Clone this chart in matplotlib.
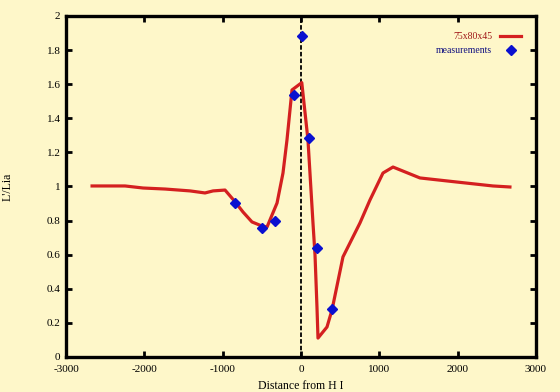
import matplotlib
matplotlib.use("Agg")
import matplotlib.pyplot as plt
from matplotlib.ticker import FuncFormatter

# Model curve 75x80x45
model_x = [-2668, -2247, -2017, -1736, -1417, -1226, -1123, -970, -843, -740, -626,
           -498, -434, -396, -306, -230, -179, -115, 10, 89, 153, 179, 204, 217,
           332, 396, 536, 753, 881, 1047, 1175, 1519, 1992, 2451, 2668]
model_y = [1.003, 1.003, 0.991, 0.985, 0.974, 0.962, 0.974, 0.979, 0.911, 0.850, 0.792,
           0.768, 0.762, 0.804, 0.903, 1.079, 1.273, 1.566, 1.609, 1.273, 0.786, 0.598,
           0.293, 0.111, 0.176, 0.276, 0.587, 0.786, 0.921, 1.079, 1.114, 1.050, 1.026,
           1.003, 0.997]

# Measurements
meas_x = [-843, -502, -332, -89, 9, 106, 200, 392]
meas_y = [0.901, 0.755, 0.798, 1.537, 1.883, 1.283, 0.637, 0.280]

x_ticks = [-3000, -2000, -1000, 0, 1000, 2000, 3000]
y_ticks = [0, 0.2, 0.4, 0.6, 0.8, 1.0, 1.2, 1.4, 1.6, 1.8, 2.0]

bg = '#FEF7C9'
plt.rcParams['font.family'] = ['Liberation Serif', 'DejaVu Serif']

fig = plt.figure(figsize=(5.6, 3.92), dpi=100, facecolor=bg)
ax = fig.add_axes([0.118, 0.0893, 0.839, 0.870], facecolor=bg)

ax.plot([0, 0], [0, 2], color='black', lw=1.3, linestyle=(0, (2.5, 1.2)), zorder=1)
ax.plot(model_x, model_y, color='#D42020', lw=2.3, label='75x80x45', zorder=2)
ax.plot(meas_x, meas_y, linestyle='none', marker='D', markersize=5.5,
        color='#0A10D0', label='measurements', zorder=3)

ax.set_xlim(-3000, 3000)
ax.set_ylim(0, 2)
ax.set_xticks(x_ticks)
ax.set_yticks(y_ticks)

def fmt(v, pos):
    return ('%.1f' % v).rstrip('0').rstrip('.')
ax.yaxis.set_major_formatter(FuncFormatter(fmt))
ax.xaxis.set_major_formatter(FuncFormatter(lambda v, p: '%d' % v))

for s in ax.spines.values():
    s.set_linewidth(2.4)
ax.tick_params(direction='in', length=4, width=2, top=True, right=True,
               labelsize=8, pad=4)
ax.tick_params(axis='x', pad=6)

ax.set_xlabel('Distance from H I', fontsize=8.5, labelpad=4)
ax.set_ylabel("L'/Lia", fontsize=8.5, labelpad=24)

leg = ax.legend(loc='upper right', frameon=False, markerfirst=False, fontsize=7,
                handlelength=2.2, borderaxespad=0.6, labelspacing=0.5,
                bbox_to_anchor=(0.99, 0.98))
leg.get_texts()[0].set_color('#A01818')
leg.get_texts()[1].set_color('#101080')

fig.savefig('out.png', dpi=100, facecolor=bg)
